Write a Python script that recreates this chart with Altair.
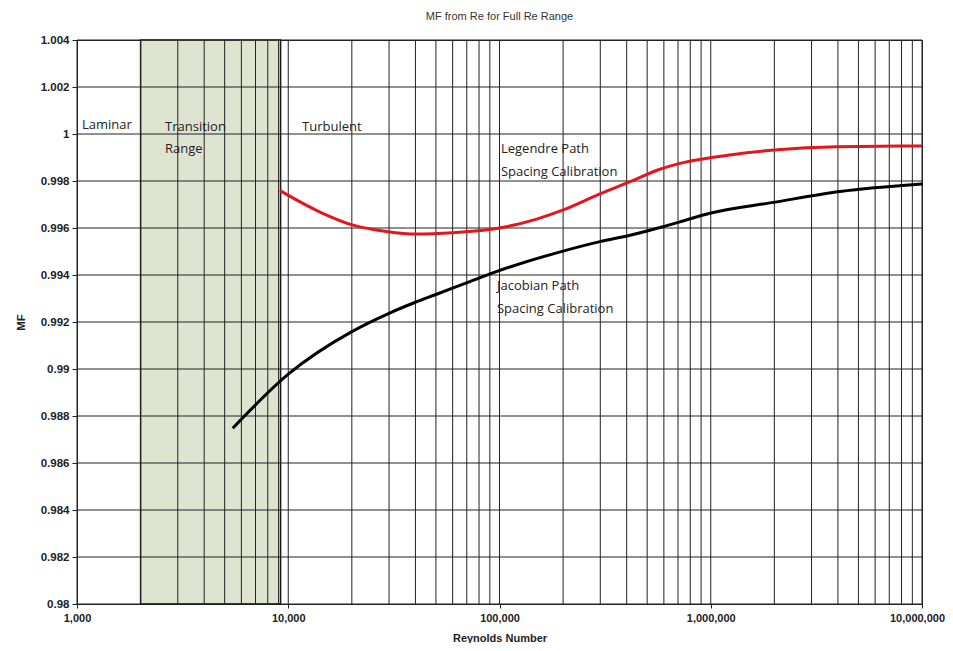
import altair as alt
import pandas as pd

# ---- data ----
legendre_re = [9140, 14130, 20300, 29200, 40500, 60400, 100000, 150000, 200500, 299000, 415000, 575000, 715000, 1030000, 1230000, 2000000, 4000000, 10000000]
legendre_mf = [0.99759, 0.99668, 0.99612, 0.99585, 0.99574, 0.99580, 0.99600, 0.99638, 0.99677, 0.99745, 0.99797, 0.99850, 0.99875, 0.99901, 0.99911, 0.99932, 0.99946, 0.99949]

jacobian_re = [5460, 10000, 20000, 30000, 40000, 50000, 72400, 93000, 208000, 299000, 415000, 596000, 715000, 990000, 1980000, 4090000, 10000000]
jacobian_mf = [0.98748, 0.98978, 0.99159, 0.99237, 0.99284, 0.99317, 0.99372, 0.99409, 0.99506, 0.99542, 0.99569, 0.99606, 0.99626, 0.99663, 0.99709, 0.99755, 0.99787]

transition_start = 2000
transition_end = 9200

x_major = [1000, 10000, 100000, 1000000, 10000000]
x_grid = [m * d for d in [1000, 10000, 100000, 1000000] for m in range(1, 10)] + [10000000]
y_ticks = [0.98, 0.982, 0.984, 0.986, 0.988, 0.99, 0.992, 0.994, 0.996, 0.998, 1.0, 1.002, 1.004]

notes_text = ["Laminar", "Transition", "Range", "Turbulent", "Legendre Path", "Spacing Calibration", "Jacobian Path", "Spacing Calibration"]
notes_re = [1056, 2610, 2610, 11620, 101600, 101600, 97300, 97300]
notes_mf = [1.00021, 1.00013, 0.99919, 1.00013, 0.99919, 0.99821, 0.99336, 0.99238]

# ---- tables ----
leg = pd.DataFrame({"Re": legendre_re, "MF": legendre_mf})
jac = pd.DataFrame({"Re": jacobian_re, "MF": jacobian_mf})
band = pd.DataFrame({"x": [transition_start], "x2": [transition_end], "y": [0.98], "y2": [1.004]})
vgrid = pd.DataFrame({"Re": x_grid})
hgrid = pd.DataFrame({"MF": y_ticks})
notes = pd.DataFrame({"Re": notes_re, "MF": notes_mf, "t": notes_text})

W, H = 845, 564
label_font = "Liberation Sans, Arial, sans-serif"
note_font = "Open Sans, Carlito, sans-serif"

xscale = alt.Scale(type="log", domain=[1000, 10000000], nice=False)
yscale = alt.Scale(domain=[0.98, 1.004], nice=False, zero=False)

xaxis = alt.Axis(values=x_major, format=",", grid=False, title="Reynolds Number",
                 labelFont=label_font, labelFontWeight="bold", labelFontSize=11, labelColor="#222",
                 titleFont=label_font, titleFontWeight="bold", titleFontSize=11, titleColor="#222",
                 titlePadding=9, labelPadding=4, tickSize=4, tickColor="#222", domainColor="#222",
                 labelFlush=False,
                 labelOffset={"condition": {"test": "datum.value >= 10000000", "value": -5}, "value": 0})
yaxis = alt.Axis(values=y_ticks, format="~f", grid=False, title="MF",
                 labelFont=label_font, labelFontWeight="bold", labelFontSize=11.5, labelColor="#222",
                 titleFont=label_font, titleFontWeight="bold", titleFontSize=11.5, titleColor="#222",
                 titlePadding=14, tickSize=5, tickColor="#222", domainColor="#222", labelPadding=3)

rect = alt.Chart(band).mark_rect(fill="#dfe4d0", stroke="#1a1a1a", strokeWidth=1.5).encode(
    x=alt.X("x:Q", scale=xscale, axis=xaxis),
    x2="x2:Q",
    y=alt.Y("y:Q", scale=yscale, axis=yaxis),
    y2="y2:Q",
)

vlines = alt.Chart(vgrid).mark_rule(color="#222", strokeWidth=1).encode(
    x=alt.X("Re:Q", scale=xscale),
    y=alt.value(0), y2=alt.value(H),
)
hlines = alt.Chart(hgrid).mark_rule(color="#222", strokeWidth=1).encode(
    y=alt.Y("MF:Q", scale=yscale),
    x=alt.value(0), x2=alt.value(W),
)

red = alt.Chart(leg).mark_line(color="#e3161d", strokeWidth=3, interpolate="monotone").encode(
    x=alt.X("Re:Q", scale=xscale), y=alt.Y("MF:Q", scale=yscale))
black = alt.Chart(jac).mark_line(color="#000000", strokeWidth=3, interpolate="monotone").encode(
    x=alt.X("Re:Q", scale=xscale), y=alt.Y("MF:Q", scale=yscale))

text = alt.Chart(notes).mark_text(align="left", baseline="alphabetic", font=note_font,
                                  fontSize=13, color="#222").encode(
    x=alt.X("Re:Q", scale=xscale), y=alt.Y("MF:Q", scale=yscale), text="t:N")

chart = alt.layer(rect, vlines, hlines, red, black, text).properties(
    width=W, height=H,
    title=alt.TitleParams("MF from Re for Full Re Range", font=label_font, fontSize=11,
                          fontWeight="normal", color="#333", anchor="middle", offset=12),
    autosize=alt.AutoSizeParams(type="none"),
    padding={"left": 69, "top": 32, "right": 23, "bottom": 39},
).configure_view(stroke="#222", strokeWidth=1)

chart.save("out.html", embed_options={"renderer": "svg", "actions": False})
